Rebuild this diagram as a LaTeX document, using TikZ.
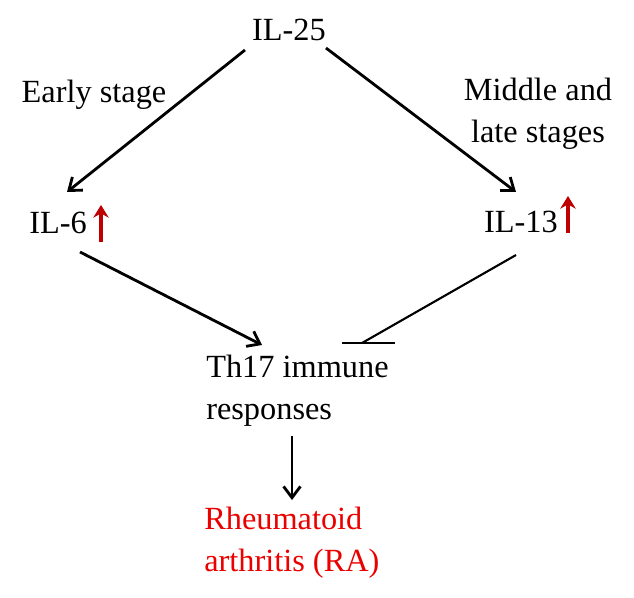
\documentclass[tikz,border=0pt]{standalone}
\usepackage{fontspec}
\setmainfont{Liberation Serif}
\usetikzlibrary{arrows.meta}
\definecolor{rougefonce}{RGB}{190,0,0}
\definecolor{rougevif}{RGB}{235,0,0}

\begin{document}
\begin{tikzpicture}[x=0.025cm, y=-0.025cm]
        \tikzstyle{texte}=[inner sep=0, font=\fontsize{23}{30}\selectfont];
        \tikzstyle{fleche}=[line width=2pt, -{Straight Barb[length=8pt, width=12pt, line width=2pt]}];
        \tikzstyle{hausse}=[rougefonce, line width=2.8pt, -{Stealth[length=9pt, width=11pt, inset=3pt]}];

        \useasboundingbox (0,0) rectangle (634,598);

        % les textes
        \node[texte] (il25) at (289,30) {IL-25};
        \node[texte] (precoce) at (94,95) {Early stage};
        \node[texte, align=center] (tardif) at (538,114) {Middle and\\late stages};
        \node[texte] (il6) at (58,223) {IL-6};
        \node[texte] (il13) at (521,222) {IL-13};
        \node[texte, anchor=west, align=left] (th17) at (206,391) {Th17 immune\\responses};
        \node[texte, anchor=west, align=left, text=rougevif] (ra) at (204,543) {Rheumatoid\\arthritis (RA)};

        % les extremites des fleches
        \coordinate (A1) at (245,50);
        \coordinate (A2) at (67,192);
        \coordinate (B1) at (326,48);
        \coordinate (B2) at (516,192);
        \coordinate (C1) at (80,252);
        \coordinate (C2) at (262,345);
        \coordinate (D1) at (516,255);
        \coordinate (D2) at (362,343);
        \coordinate (F1) at (342,343);
        \coordinate (F2) at (395,343);
        \coordinate (E1) at (292,436);
        \coordinate (E2) at (292,500);

        \draw[fleche] (A1) -- (A2);
        \draw[fleche] (B1) -- (B2);
        \draw[fleche] (C1) -- (C2);
        \draw[fleche] (E1) -- (E2);
        \draw[line width=1.5pt] (D1) -- (D2);
        \draw[line width=2pt] (F1) -- (F2);

        % les hausses
        \foreach \x/\y in {101/242, 568/233}{
          \draw[hausse] (\x,\y) -- (\x,\y-37);
        }
    \end{tikzpicture}
\end{document}
